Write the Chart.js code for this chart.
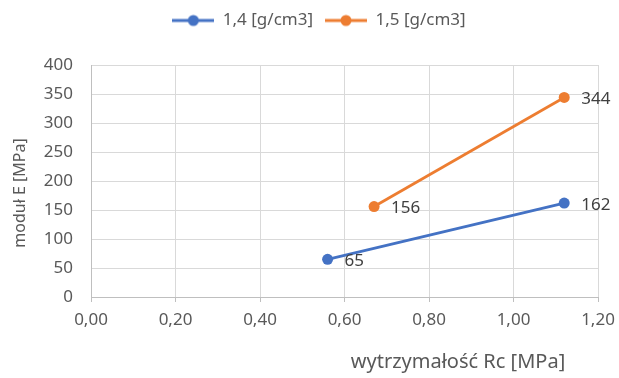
<!DOCTYPE html>
<html>
<head>
<meta charset="utf-8">
<script src="https://cdn.jsdelivr.net/npm/chart.js@4/dist/chart.umd.min.js"></script>
<style>
  html, body { margin: 0; padding: 0; background: #fff; }
  #wrap { width: 619px; height: 378px; }
</style>
</head>
<body>
<div id="wrap"><canvas id="chart" width="619" height="378"></canvas></div>
<script>
'use strict';
var seriesNames = ['1,4 [g/cm3]', '1,5 [g/cm3]'];
var rcBlue = [0.56, 1.12];
var eBlue = [65, 162];
var rcOrange = [0.67, 1.12];
var eOrange = [156, 344];
var xTitle = 'wytrzymałość Rc [MPa]';
var yTitle = 'moduł E [MPa]';

var blue = '#4472C4';
var orange = '#ED7D31';
var fontName = '"Noto Sans", sans-serif';

function toPoints(xs, ys) {
  var pts = [];
  for (var i = 0; i < xs.length; i++) {
    pts.push({x: xs[i], y: ys[i]});
  }
  return pts;
}

// legend marker: short line with a dot in the middle
function legendMarker(color) {
  var c = document.createElement('canvas');
  c.width = 42;
  c.height = 14;
  var g = c.getContext('2d');
  g.strokeStyle = color;
  g.lineWidth = 3;
  g.beginPath();
  g.moveTo(0, 7);
  g.lineTo(42, 7);
  g.stroke();
  g.fillStyle = color;
  g.beginPath();
  g.arc(21, 7, 5.5, 0, Math.PI * 2);
  g.fill();
  return c;
}

var layoutFix = {
  id: 'layoutFix',
  beforeInit: function(chart) {
    var legend = chart.legend;
    var origFit = legend.fit;
    legend.fit = function() {
      origFit.call(this);
      this.height = 65;
    };
  },
  afterLayout: function(chart) {
    // legend sits a bit right of centre in the original
    chart.legend.left += 20;
    chart.legend.right += 20;
  }
};

var pointLabels = {
  id: 'pointLabels',
  afterDatasetsDraw: function(chart) {
    var ctx = chart.ctx;
    ctx.save();
    ctx.font = '17px ' + fontName;
    ctx.fillStyle = '#404040';
    ctx.textAlign = 'left';
    ctx.textBaseline = 'middle';
    chart.data.datasets.forEach(function(ds, i) {
      var meta = chart.getDatasetMeta(i);
      meta.data.forEach(function(pt, j) {
        ctx.fillText(String(ds.data[j].y), pt.x + 17, pt.y + 2);
      });
    });
    ctx.restore();
  }
};

var axisTitles = {
  id: 'axisTitles',
  afterDraw: function(chart) {
    var ctx = chart.ctx;
    var area = chart.chartArea;
    ctx.save();
    ctx.fillStyle = '#595959';
    ctx.textAlign = 'center';
    ctx.textBaseline = 'middle';
    ctx.font = '20px ' + fontName;
    ctx.fillText(xTitle, 458, 362);
    ctx.font = '16px ' + fontName;
    ctx.translate(20, (area.top + area.bottom) / 2 + 12);
    ctx.rotate(-Math.PI / 2);
    ctx.fillText(yTitle, 0, 0);
    ctx.restore();
  }
};

new Chart(document.getElementById('chart'), {
  type: 'scatter',
  data: {
    datasets: [{
      label: seriesNames[0],
      data: toPoints(rcBlue, eBlue),
      borderColor: blue,
      backgroundColor: blue,
      borderWidth: 2.75,
      showLine: true,
      pointRadius: 5.5,
      pointBorderWidth: 0,
      pointHoverRadius: 5.5,
      pointStyle: 'circle'
    }, {
      label: seriesNames[1],
      data: toPoints(rcOrange, eOrange),
      borderColor: orange,
      backgroundColor: orange,
      borderWidth: 2.75,
      showLine: true,
      pointRadius: 5.5,
      pointBorderWidth: 0,
      pointHoverRadius: 5.5,
      pointStyle: 'circle'
    }]
  },
  options: {
    responsive: false,
    animation: false,
    layout: {padding: {left: 0, right: 21, top: 0, bottom: 0}},
    plugins: {
      legend: {
        position: 'top',
        labels: {
          usePointStyle: true,
          pointStyleWidth: 42,
          color: '#595959',
          font: {family: fontName, size: 17},
          padding: 12,
          generateLabels: function(chart) {
            return chart.data.datasets.map(function(ds, i) {
              return {
                text: ds.label,
                pointStyle: legendMarker(ds.borderColor),
                fillStyle: ds.borderColor,
                strokeStyle: ds.borderColor,
                fontColor: '#595959',
                lineWidth: 0,
                hidden: false,
                datasetIndex: i
              };
            });
          }
        }
      },
      tooltip: {enabled: false}
    },
    scales: {
      x: {
        type: 'linear',
        min: 0,
        max: 1.2,
        afterFit: function(scale) {
          scale.height = 81;
          scale.paddingRight = 0;
        },
        ticks: {
          stepSize: 0.2,
          color: '#595959',
          font: {family: fontName, size: 17},
          padding: 8,
          callback: function(v) { return v.toFixed(2).replace('.', ','); }
        },
        grid: {color: '#d9d9d9', lineWidth: 1, drawTicks: true, tickLength: 5, tickColor: '#bfbfbf'},
        border: {color: '#bfbfbf', width: 1}
      },
      y: {
        min: 0,
        max: 400,
        afterFit: function(scale) { scale.width = 91; },
        ticks: {
          stepSize: 50,
          color: '#595959',
          font: {family: fontName, size: 17},
          padding: 18
        },
        grid: {color: '#d9d9d9', lineWidth: 1, drawTicks: false},
        border: {color: '#bfbfbf', width: 1}
      }
    }
  },
  plugins: [layoutFix, pointLabels, axisTitles]
});
</script>
</body>
</html>
